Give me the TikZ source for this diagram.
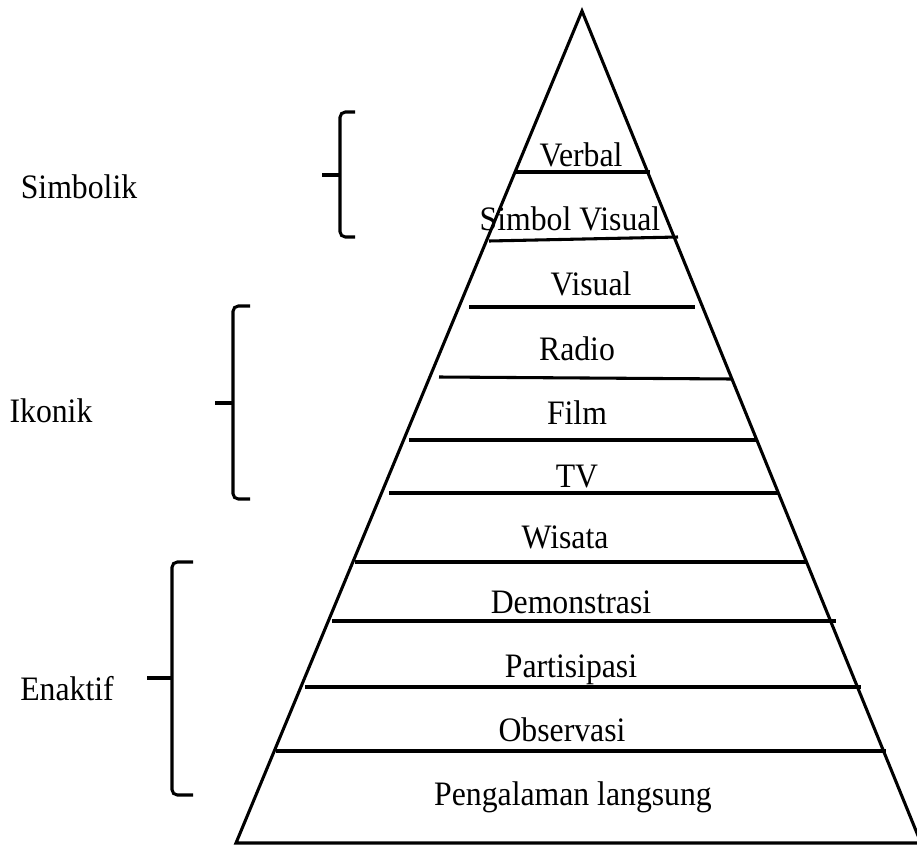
\documentclass[tikz,border=0pt]{standalone}
\usepackage{fontspec}
\setmainfont{Liberation Serif}
\newcommand{\tall}[1]{\scalebox{1}[1.08]{#1}}
\begin{document}
\begin{tikzpicture}[x=0.75pt,y=-0.75pt,
  edge/.style={line width=2.3pt,line cap=round,line join=miter},
  lvl/.style={line width=2.3pt},
  brace/.style={line width=2.3pt,rounded corners=4pt},
  lbl/.style={anchor=base,inner sep=0pt,font=\fontsize{23.8}{28}\selectfont}]
\useasboundingbox (0,0) rectangle (917,846);
% pyramid
\coordinate (apex) at (582,11);
\coordinate (bl) at (236,843);
\coordinate (br) at (921,843);
\draw[edge] (bl) -- (apex) -- (br) -- cycle;
% level lines
\coordinate (l1a) at (515,172); \coordinate (l1b) at (650,172);
\coordinate (l2a) at (489,241); \coordinate (l2b) at (678,237);
\coordinate (l3a) at (469,307); \coordinate (l3b) at (695,307);
\coordinate (l4a) at (439,377); \coordinate (l4b) at (732,379);
\coordinate (l5a) at (409,440); \coordinate (l5b) at (757,440);
\coordinate (l6a) at (389,493); \coordinate (l6b) at (778,493);
\coordinate (l7a) at (355,562); \coordinate (l7b) at (807,562);
\coordinate (l8a) at (332,621); \coordinate (l8b) at (836,621);
\coordinate (l9a) at (305,687); \coordinate (l9b) at (861,687);
\coordinate (l10a) at (276,751); \coordinate (l10b) at (886,751);
\foreach \i in {1,...,10} \draw[lvl] (l\i a) -- (l\i b);
% level labels
\node[lbl] (t1) at (581,166) {\tall{Verbal}};
\node[lbl] (t2) at (570,230) {\tall{Simbol Visual}};
\node[lbl] (t3) at (591,295) {\tall{Visual}};
\node[lbl] (t4) at (577,360) {\tall{Radio}};
\node[lbl] (t5) at (577,424) {\tall{Film}};
\node[lbl] (t6) at (577,487) {\tall{TV}};
\node[lbl] (t7) at (565,548) {\tall{Wisata}};
\node[lbl] (t8) at (571,613) {\tall{Demonstrasi}};
\node[lbl] (t9) at (571,677) {\tall{Partisipasi}};
\node[lbl] (t10) at (562,741) {\tall{Observasi}};
\node[lbl] (t11) at (573,805) {\tall{Pengalaman langsung}};
% braces
\draw[brace] (355,112) -- (340,112) -- (340,237) -- (355,237);
\draw[line width=2.3pt] (322,175) -- (340,175);
\draw[brace] (250,306) -- (233,306) -- (233,499) -- (250,499);
\draw[line width=2.3pt] (215,403) -- (233,403);
\draw[brace] (193,562) -- (172,562) -- (172,795) -- (193,795);
\draw[line width=2.3pt] (147,678) -- (172,678);
% group labels
\node[lbl] (g1) at (79,198) {\tall{Simbolik}};
\node[lbl] (g2) at (51,422) {\tall{Ikonik}};
\node[lbl] (g3) at (67,700) {\tall{Enaktif}};
\end{tikzpicture}
\end{document}
